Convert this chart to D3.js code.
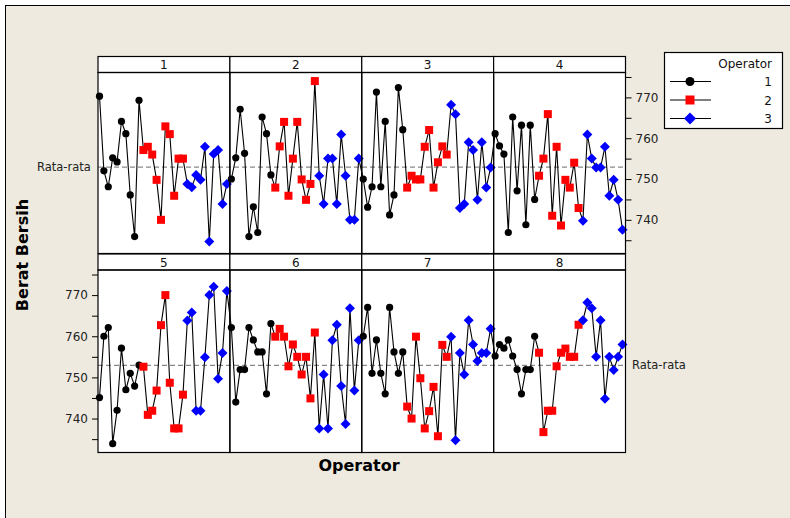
<!DOCTYPE html>
<html><head><meta charset="utf-8">
<script src="https://cdn.jsdelivr.net/npm/d3@7"></script>
<style>body{margin:0;background:#fff;}svg{display:block;font-family:"DejaVu Sans",Verdana,sans-serif;}</style>
</head><body>
<svg id="c" width="790" height="518"></svg>
<script>
const parts = ["1","2","3","4","5","6","7","8"];
const operators = ["1","2","3"];
const meanValue = 752.9;
const yTicksMajor = [740, 750, 760, 770];
const yTicksMinor = [735, 745, 755, 765, 775];
// values per part: operator 1, 2, 3 (10 measurements each)
const op1 = [
 [770.3,752.0,748.1,755.2,754.2,764.1,761.1,746.1,735.9,769.3],
 [750.0,755.2,767.1,756.3,735.9,743.2,736.9,765.2,761.1,751.0],
 [750.0,743.1,748.1,771.3,748.1,764.1,741.2,746.1,772.4,762.1],
 [761.1,758.1,756.1,736.9,765.2,747.1,763.2,738.8,763.2,745.0],
 [745.1,760.0,762.1,733.9,742.0,757.1,747.0,751.0,747.9,753.0],
 [762.1,744.0,751.9,751.9,762.1,759.1,756.2,756.2,746.0,763.1],
 [760.0,767.0,751.0,759.1,751.0,746.0,767.0,756.2,751.0,756.2],
 [755.2,758.0,757.1,759.1,755.2,751.9,746.0,751.9,751.9,760.0]
];
const op2 = [
 [757.1,757.9,756.0,749.8,740.0,762.9,761.0,745.9,755.0,755.0],
 [747.9,758.0,764.0,745.9,755.0,764.0,749.9,744.9,748.8,774.0],
 [747.9,750.8,749.9,749.9,757.9,762.0,747.9,754.1,758.0,756.0],
 [750.8,755.0,765.9,741.0,757.9,738.6,749.8,747.9,754.0,742.9],
 [752.6,740.9,741.9,746.8,762.7,770.0,748.7,737.6,737.6,745.8],
 [759.9,761.8,759.9,752.7,758.0,755.0,750.7,755.0,744.9,760.9],
 [742.9,740.0,759.9,749.8,737.6,741.8,747.7,735.7,757.9,755.0],
 [756.0,736.7,741.9,741.9,752.7,756.0,757.0,755.0,755.0,762.8]
];
const op3 = [
 [748.8,748.0,751.0,749.8,757.9,734.7,756.1,757.1,743.9,748.8],
 [750.8,743.9,755.0,755.0,743.9,760.9,750.8,740.0,740.0,755.0],
 [768.2,765.9,742.9,743.9,759.0,757.1,744.9,759.0,747.9,752.8],
 [739.8,760.9,755.0,752.8,752.8,757.9,745.9,749.8,744.9,737.6],
 [763.8,765.8,741.9,741.9,754.9,770.0,772.0,749.7,755.9,771.0],
 [737.6,750.7,737.6,759.0,762.8,747.9,738.7,766.8,746.8,759.0],
 [759.9,734.7,755.9,750.7,763.9,758.0,754.0,755.9,755.9,761.8],
 [763.9,768.2,766.8,755.0,763.9,744.8,755.0,751.8,755.0,758.0]
];
const colors = {"1":"#000000","2":"#FF0000","3":"#0000FF"};

const svg = d3.select("#c");
svg.append("rect").attr("x",5.5).attr("y",5.5).attr("width",800).attr("height",520)
  .attr("fill","#EEEAE0").attr("stroke","#000").attr("stroke-width",1);

const L = 98, R = 625.5;
const rows = [{top:56.5, strip:16, bottom:253.5},{top:254, strip:16, bottom:452.5}];
const idx = d3.range(30);

rows.forEach((row, r) => {
  const rowParts = parts.slice(r*4, r*4+4);
  const x = d3.scaleBand().domain(rowParts).range([L,R]);
  const pw = x.bandwidth();
  const xi = d3.scalePoint().domain(idx).range([1.5, pw-3]);
  const y = d3.scaleLinear().domain([731.75,776.1]).range([row.bottom, row.top+row.strip]);
  const g = svg.append("g");
  rowParts.forEach(p => {
    g.append("rect").attr("x",x(p)).attr("y",row.top+row.strip).attr("width",pw)
      .attr("height",row.bottom-row.top-row.strip).attr("fill","#fff");
  });
  g.append("line").attr("x1",L).attr("x2",R).attr("y1",y(meanValue)).attr("y2",y(meanValue))
    .attr("stroke","#888").attr("stroke-width",1.2).attr("stroke-dasharray","5,3");
  const pts = [];
  rowParts.forEach(p => {
    const pi = parts.indexOf(p);
    [op1[pi], op2[pi], op3[pi]].forEach((arr, o) => {
      arr.forEach((v, k) => pts.push({x: x(p)+xi(o*10+k), y: y(v), op: operators[o]}));
    });
  });
  g.append("path").attr("d", d3.line().x(d=>d.x).y(d=>d.y)(pts))
    .attr("fill","none").attr("stroke","#000").attr("stroke-width",1.1);
  pts.forEach(d => {
    if (d.op==="1") g.append("circle").attr("cx",d.x).attr("cy",d.y).attr("r",3.6).attr("fill",colors["1"]);
    else if (d.op==="2") g.append("rect").attr("x",d.x-4).attr("y",d.y-4).attr("width",8).attr("height",8).attr("fill",colors["2"]);
    else g.append("path").attr("d",`M${d.x},${d.y-5}L${d.x+5},${d.y}L${d.x},${d.y+5}L${d.x-5},${d.y}Z`).attr("fill",colors["3"]);
  });
  rowParts.forEach(p => {
    g.append("rect").attr("x",x(p)).attr("y",row.top).attr("width",pw).attr("height",row.strip)
      .attr("fill","#fff").attr("stroke","#000").attr("stroke-width",1.2);
    g.append("text").attr("x",x(p)+pw/2).attr("y",row.top+row.strip/2+4.5).attr("text-anchor","middle")
      .attr("font-size",12).attr("fill","#111").text(p);
    g.append("rect").attr("x",x(p)).attr("y",row.top+row.strip).attr("width",pw)
      .attr("height",row.bottom-row.top-row.strip).attr("fill","none").attr("stroke","#000").attr("stroke-width",1.2);
  });
  const ax = r===0 ? d3.axisRight(y) : d3.axisLeft(y);
  const axG = svg.append("g").attr("transform",`translate(${r===0?R:L},0)`)
    .call(ax.tickValues(yTicksMajor).tickSize(6).tickPadding(4).tickFormat(d3.format("d")));
  axG.select(".domain").remove();
  axG.selectAll("text").attr("font-size",12).attr("fill","#222").attr("font-family","DejaVu Sans, Verdana, sans-serif");
  axG.selectAll("line").attr("stroke","#000");
  const ax2 = (r===0 ? d3.axisRight(y) : d3.axisLeft(y)).tickValues(yTicksMinor).tickSize(6).tickFormat("");
  const axG2 = svg.append("g").attr("transform",`translate(${r===0?R:L},0)`).call(ax2);
  axG2.select(".domain").remove();
  if (r===0) svg.append("text").attr("x",37).attr("y",y(meanValue)+4).attr("font-size",11.5).attr("fill","#222").text("Rata-rata");
  else svg.append("text").attr("x",632).attr("y",y(meanValue)+4).attr("font-size",11.5).attr("fill","#222").text("Rata-rata");
});

svg.append("text").attr("x",359).attr("y",471).attr("text-anchor","middle").attr("font-size",16)
  .attr("font-weight","bold").attr("fill","#000").text("Operator");
svg.append("text").attr("transform","translate(28,255) rotate(-90)").attr("text-anchor","middle")
  .attr("font-size",16).attr("font-weight","bold").attr("fill","#000").text("Berat Bersih");

const lg = svg.append("g");
lg.append("rect").attr("x",664.5).attr("y",52.5).attr("width",118).attr("height",76)
  .attr("fill","#fff").attr("stroke","#000").attr("stroke-width",1.2);
lg.append("text").attr("x",772).attr("y",68).attr("text-anchor","end").attr("font-size",12).attr("fill","#111").text("Operator");
operators.forEach((o,i) => {
  const yy = 81.5 + i*18.5;
  lg.append("line").attr("x1",670).attr("x2",711).attr("y1",yy).attr("y2",yy).attr("stroke","#000").attr("stroke-width",1.1);
  const cx = 690;
  if (o==="1") lg.append("circle").attr("cx",cx).attr("cy",yy).attr("r",4.5).attr("fill",colors[o]);
  else if (o==="2") lg.append("rect").attr("x",cx-4.5).attr("y",yy-4.5).attr("width",9).attr("height",9).attr("fill",colors[o]);
  else lg.append("path").attr("d",`M${cx},${yy-6}L${cx+6},${yy}L${cx},${yy+6}L${cx-6},${yy}Z`).attr("fill",colors[o]);
  lg.append("text").attr("x",772).attr("y",yy+4.5).attr("text-anchor","end").attr("font-size",12).attr("fill","#111").text(o);
});
</script>
</body></html>
